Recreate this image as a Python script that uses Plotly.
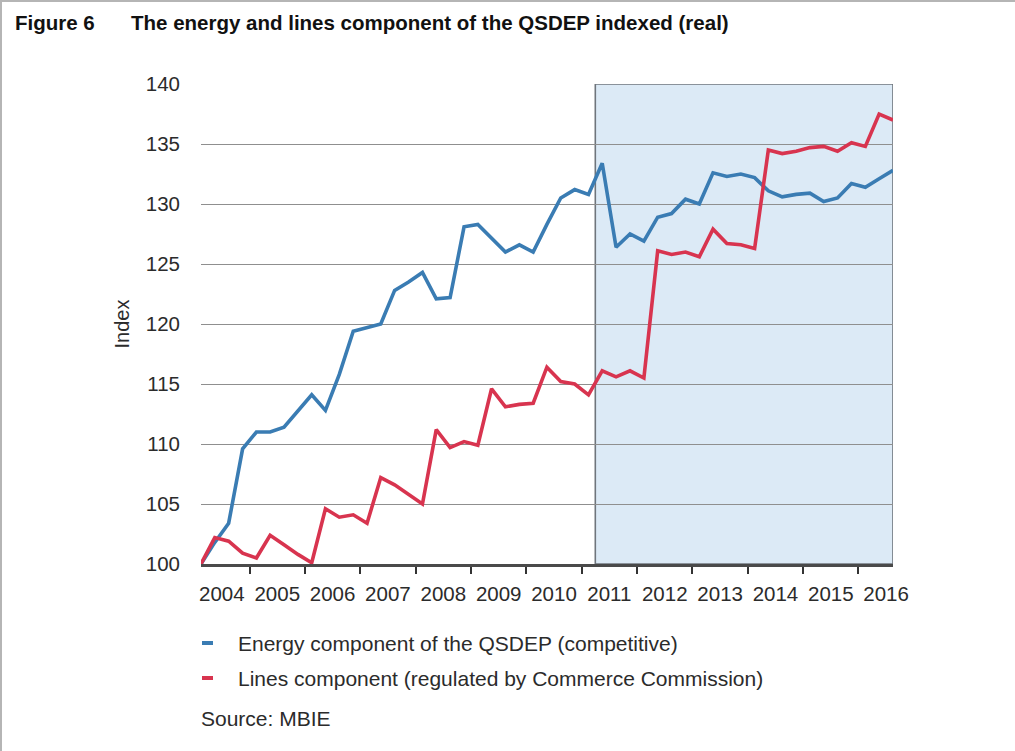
import pandas as pd
import plotly.graph_objects as go

# ---- data (quarterly index, 2004Q1 = 100) ----
quarters = pd.period_range("2004Q1", "2016Q3", freq="Q")
energy = [100.0, 101.8, 103.4, 109.6, 111.0, 111.0, 111.4, 112.8, 114.1, 112.8,
          115.8, 119.4, 119.7, 120.0, 122.8, 123.5, 124.3, 122.1, 122.2, 128.1,
          128.3, 127.2, 126.0, 126.6, 126.0, 128.3, 130.5, 131.2, 130.8, 133.4,
          126.4, 127.5, 126.9, 128.9, 129.2, 130.4, 130.0, 132.6, 132.3, 132.5,
          132.2, 131.1, 130.6, 130.8, 130.9, 130.2, 130.5, 131.7, 131.4, 132.1,
          132.8]
lines = [100.0, 102.2, 101.9, 100.9, 100.5, 102.4, 101.6, 100.8, 100.1, 104.6,
         103.9, 104.1, 103.4, 107.2, 106.6, 105.8, 105.0, 111.2, 109.7, 110.2,
         109.9, 114.6, 113.1, 113.3, 113.4, 116.4, 115.2, 115.0, 114.1, 116.1,
         115.6, 116.1, 115.5, 126.1, 125.8, 126.0, 125.6, 127.9, 126.7, 126.6,
         126.3, 134.5, 134.2, 134.4, 134.7, 134.8, 134.4, 135.1, 134.8, 137.5,
         137.0]
energy_name = "Energy component of the QSDEP (competitive)"
lines_name = "Lines component (regulated by Commerce Commission)"
shade_start = "2011-04-01"
y_ticks = [100, 105, 110, 115, 120, 125, 130, 135, 140]

# quarter mid-points as dates
x = [(p.start_time + (p.end_time - p.start_time) / 2) for p in quarters]

BLUE = "#3a7cb3"
RED = "#d8344f"
FONT = "Liberation Sans, Arial, sans-serif"
TXT = "#2b2b2b"

fig = go.Figure()
fig.add_trace(go.Scatter(x=x, y=energy, mode="lines", name=energy_name,
                         line=dict(color=BLUE, width=3.6), showlegend=False))
fig.add_trace(go.Scatter(x=x, y=lines, mode="lines", name=lines_name,
                         line=dict(color=RED, width=3.6), showlegend=False))

# shaded period
fig.add_shape(type="rect", xref="x", yref="y", x0=shade_start, x1=x[-1],
              y0=100, y1=140, fillcolor="#dceaf6",
              line=dict(color="#6f757c", width=1.6), layer="below")

L, R, T, B = 201, 122, 84, 187
W, H = 1015, 751
pw, ph = W - L - R, H - T - B


def px(xp):
    return (xp - L) / pw


def py(yp):
    return (H - B - yp) / ph


# page border lines
fig.add_shape(type="line", xref="paper", yref="paper", x0=px(1), x1=px(1),
              y0=py(0), y1=py(H), line=dict(color="#b5b5b5", width=2))
fig.add_shape(type="line", xref="paper", yref="paper", x0=px(0), x1=px(W),
              y0=py(1), y1=py(1), line=dict(color="#b5b5b5", width=2))

annotations = [
    dict(text="<b>Figure 6</b>", x=px(13), y=py(23), xanchor="left", yanchor="middle",
         font=dict(size=20.5, color="#111")),
    dict(text="<b>The energy and lines component of the QSDEP indexed (real)</b>",
         x=px(129), y=py(23), xanchor="left", yanchor="middle",
         font=dict(size=20.5, color="#111")),
    dict(text=energy_name, x=px(236), y=py(643), xanchor="left", yanchor="middle",
         font=dict(size=21, color=TXT)),
    dict(text=lines_name, x=px(236), y=py(678), xanchor="left", yanchor="middle",
         font=dict(size=21, color=TXT)),
    dict(text="Source: MBIE", x=px(199), y=py(718), xanchor="left", yanchor="middle",
         font=dict(size=21, color=TXT)),
]
for a in annotations:
    a.update(xref="paper", yref="paper", showarrow=False)

# legend dashes
for yy, col in [(643, BLUE), (678, RED)]:
    fig.add_shape(type="line", xref="paper", yref="paper", x0=px(202), x1=px(213),
                  y0=py(yy), y1=py(yy), line=dict(color=col, width=4))

fig.update_layout(
    width=W, height=H,
    margin=dict(l=L, r=R, t=T, b=B, autoexpand=False),
    paper_bgcolor="white", plot_bgcolor="white",
    font=dict(family=FONT, color=TXT, size=20),
    annotations=annotations,
    showlegend=False,
)
fig.update_xaxes(
    type="date", range=[x[0], x[-1]],
    tick0="2004-01-01", dtick="M12", tickformat="%Y", ticklabelmode="period",
    ticks="outside", ticklen=7, tickwidth=2, tickcolor="#333",
    showgrid=False, showline=True, linecolor="#4a4a4a", linewidth=2.5,
    tickfont=dict(size=20.5, color=TXT), ticklabelstandoff=3,
)
fig.update_yaxes(
    range=[100, 140], tickvals=y_ticks, ticks="", showline=False,
    gridcolor="#8f8f8f", gridwidth=1.3, zeroline=False,
    tickfont=dict(size=20.5, color=TXT), ticklabelstandoff=20,
    title=dict(text="Index", font=dict(size=20, color=TXT), standoff=10),
)

fig.write_html("out.html", config={"displayModeBar": False},
               post_script="document.body.style.margin='0px';")
